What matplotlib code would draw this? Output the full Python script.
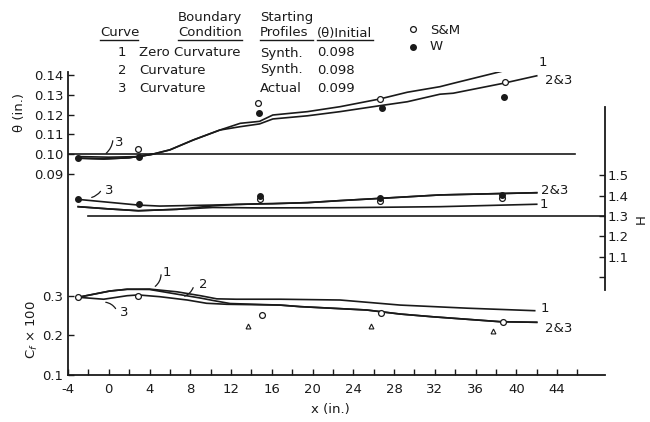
import matplotlib
matplotlib.use("Agg")
import matplotlib.pyplot as plt
from matplotlib.patches import FancyArrowPatch
from matplotlib.lines import Line2D

# ---------------- data ----------------
# momentum thickness theta (in.)
x_theta_1 = [-3, -0.5, 2, 4.3, 6, 8.3, 10.9, 12.9, 14.8, 16.1, 19.5, 22.7, 26.6, 29.3, 32.5, 33.8, 37.1, 40.4, 42.0]
theta_1 = [0.098, 0.0976, 0.0982, 0.100, 0.1022, 0.1072, 0.1122, 0.1156, 0.1166, 0.1198, 0.1215, 0.1240, 0.1279,
           0.1313, 0.1341, 0.1358, 0.1400, 0.1442, 0.1454]
x_theta_23 = [-3, -0.5, 2, 4.3, 6, 8.3, 10.9, 12.9, 14.8, 16.1, 19.5, 22.7, 26.6, 29.3, 32.5, 33.8, 38.7, 42.0]
theta_23 = [0.098, 0.0976, 0.0982, 0.100, 0.1022, 0.1072, 0.1122, 0.1139, 0.1153, 0.1178, 0.1194, 0.1215, 0.1245,
            0.1265, 0.1303, 0.1308, 0.1358, 0.1396]
x_theta_3 = [-3, 0, 3, 4.3]
theta_3 = [0.0988, 0.0985, 0.0988, 0.100]
theta_ref = 0.10
theta_ref_x = [-4, 45.75]

x_theta_sm = [2.9, 14.6, 26.6, 38.9]
theta_sm = [0.1026, 0.1258, 0.1278, 0.1364]
x_theta_w = [-3.0, 3.0, 14.7, 26.8, 38.8]
theta_w = [0.098, 0.0986, 0.1208, 0.1232, 0.1288]

# shape factor H
x_H_1 = [-3, 0, 2.9, 6.7, 10.2, 14.8, 22.7, 32.5, 42.0]
H_1 = [1.346, 1.335, 1.326, 1.333, 1.342, 1.340, 1.341, 1.346, 1.358]
x_H_2 = [-3, 0, 2.9, 6.7, 10.2, 12.5, 14.8, 16.1, 19.5, 22.7, 26.6, 32.5, 42.0]
H_2 = [1.346, 1.335, 1.326, 1.333, 1.350, 1.357, 1.360, 1.361, 1.366, 1.376, 1.387, 1.404, 1.415]
x_H_3 = [-3, 2.9, 5.0, 10.2, 14.8, 16.1, 19.5, 22.7, 26.6, 32.5, 42.0]
H_3 = [1.382, 1.354, 1.349, 1.354, 1.360, 1.361, 1.366, 1.376, 1.387, 1.404, 1.415]
H_ref = 1.3
H_ref_x = [-2.04, 48.7]

x_H_w = [-3.0, 3.0, 14.8, 26.6, 38.6]
H_w = [1.382, 1.357, 1.399, 1.390, 1.404]
x_H_sm = [14.8, 26.6, 38.6]
H_sm = [1.386, 1.372, 1.390]

# skin friction Cf x 100
x_cf_1 = [-3, 0.1, 1.8, 4.0, 6.7, 9.0, 10.6, 12.5, 16.8, 22.7, 28.6, 35.2, 41.8]
cf_1 = [0.298, 0.314, 0.3185, 0.319, 0.312, 0.302, 0.294, 0.293, 0.293, 0.291, 0.278, 0.270, 0.2636]
x_cf_2 = [-3, 0.1, 1.8, 4.0, 6.7, 9.0, 10.6, 11.9, 16.8, 18.8, 25.3, 28.6, 31.8, 38.4, 42.0]
cf_2 = [0.298, 0.314, 0.3185, 0.318, 0.306, 0.296, 0.288, 0.282, 0.278, 0.274, 0.2654, 0.255, 0.248, 0.2354, 0.2338]
x_cf_3 = [-3, -0.5, 1.8, 2.9, 5.0, 7.7, 9.6, 11.6, 16.8, 18.8, 25.3, 28.6, 31.8, 38.4, 42.0]
cf_3 = [0.298, 0.293, 0.302, 0.304, 0.2995, 0.291, 0.2826, 0.280, 0.278, 0.274, 0.2654, 0.255, 0.248, 0.2354, 0.2338]

x_cf_sm = [-3.0, 2.9, 15.0, 26.7, 38.7]
cf_sm = [0.298, 0.301, 0.253, 0.258, 0.235]
x_cf_tri = [13.7, 25.7, 37.7]
cf_tri = [0.224, 0.224, 0.211]

x_major = [-4, 0, 4, 8, 12, 16, 20, 24, 28, 32, 36, 40, 44]
x_major_labels = ["-4", "0", "4", "8", "12", "16", "20", "24", "28", "32", "36", "40", "44"]
x_minor = [-2, 2, 6, 10, 14, 18, 22, 26, 30, 34, 38, 42, 46]
theta_ticks = [0.09, 0.10, 0.11, 0.12, 0.13, 0.14]
theta_labels = ["0.09", "0.10", "0.11", "0.12", "0.13", "0.14"]
cf_ticks = [0.1, 0.2, 0.3]
cf_labels = ["0.1", "0.2", "0.3"]
H_ticks = [1.0, 1.1, 1.2, 1.3, 1.4, 1.5]
H_labels = ["", "1.1", "1.2", "1.3", "1.4", "1.5"]

# ---------------- figure ----------------
FW, FH = 650, 422
FS = 9.5
INK = "#1a1a1a"
plt.rcParams["font.family"] = ["DejaVu Sans"]
plt.rcParams["text.color"] = INK

fig = plt.figure(figsize=(6.5, 4.22), dpi=100)
fig.patch.set_facecolor("white")


def F(px, py):
    return (px / FW, 1 - py / FH)


pos = [68 / FW, 1 - 374.5 / FH, 537 / FW, 302.5 / FH]
ax_cf = fig.add_axes(pos)
ax_th = fig.add_axes(pos)
ax_h = fig.add_axes(pos)
for a in (ax_th, ax_h):
    a.patch.set_visible(False)

XL = (-4, 48.7)
for a in (ax_cf, ax_th, ax_h):
    a.set_xlim(*XL)

ax_cf.set_ylim(0.1, 0.8756)
ax_th.set_ylim(-0.01126, 0.14152)
ax_h.set_ylim(0.5173, 2.0111)

SPW = 1.3
for s in ax_cf.spines.values():
    s.set_visible(False)
for side in ("left", "bottom"):
    ax_cf.spines[side].set_visible(True)
    ax_cf.spines[side].set_linewidth(SPW)
    ax_cf.spines[side].set_color(INK)
for a in (ax_th, ax_h):
    for s in a.spines.values():
        s.set_visible(False)
ax_h.spines["right"].set_visible(True)
ax_h.spines["right"].set_bounds(0.935, 1.838)
ax_h.spines["right"].set_linewidth(SPW)
ax_h.spines["right"].set_color(INK)

# ticks
ax_cf.set_xticks(x_major)
ax_cf.set_xticklabels(x_major_labels, fontsize=FS)
ax_cf.set_xticks(x_minor, minor=True)
ax_cf.tick_params(axis="x", which="both", direction="in", length=4, width=1.0, pad=6, colors=INK)
ax_cf.set_yticks(cf_ticks)
ax_cf.set_yticklabels(cf_labels, fontsize=FS)
ax_cf.tick_params(axis="y", direction="in", length=4, width=1.0, pad=3.5, colors=INK)

ax_th.set_xticks([])
ax_th.set_yticks(theta_ticks)
ax_th.set_yticklabels(theta_labels, fontsize=FS)
ax_th.tick_params(axis="y", direction="in", length=4, width=1.0, pad=3.5, colors=INK)

ax_h.set_xticks([])
ax_h.yaxis.tick_right()
ax_h.set_yticks(H_ticks)
ax_h.set_yticklabels(H_labels, fontsize=FS)
ax_h.tick_params(axis="y", direction="in", length=4, width=1.0, pad=2, colors=INK,
                 left=False, labelleft=False, right=True, labelright=True)

LW = 1.2
# theta
ax_th.plot(theta_ref_x, [theta_ref, theta_ref], color=INK, lw=LW)
ax_th.plot(x_theta_1, theta_1, color=INK, lw=LW)
ax_th.plot(x_theta_23, theta_23, color=INK, lw=LW)
ax_th.plot(x_theta_3, theta_3, color=INK, lw=LW)
ax_th.plot(x_theta_sm, theta_sm, ls="none", marker="o", ms=4.2, mfc="white", mec=INK, mew=0.9)
ax_th.plot(x_theta_w, theta_w, ls="none", marker="o", ms=4.0, mfc=INK, mec=INK)

# H
ax_h.plot(H_ref_x, [H_ref, H_ref], color=INK, lw=LW)
ax_h.plot(x_H_1, H_1, color=INK, lw=LW)
ax_h.plot(x_H_2, H_2, color=INK, lw=LW)
ax_h.plot(x_H_3, H_3, color=INK, lw=LW)
ax_h.plot(x_H_sm, H_sm, ls="none", marker="o", ms=4.2, mfc="white", mec=INK, mew=0.9)
ax_h.plot(x_H_w, H_w, ls="none", marker="o", ms=4.0, mfc=INK, mec=INK)

# Cf
ax_cf.plot(x_cf_1, cf_1, color=INK, lw=LW)
ax_cf.plot(x_cf_2, cf_2, color=INK, lw=LW)
ax_cf.plot(x_cf_3, cf_3, color=INK, lw=LW)
ax_cf.plot(x_cf_sm, cf_sm, ls="none", marker="o", ms=4.2, mfc="white", mec=INK, mew=0.9)
ax_cf.plot(x_cf_tri, cf_tri, ls="none", marker="^", ms=3.5, mfc="white", mec=INK, mew=0.8)

# axis labels
fig.text(*F(20, 113), "θ (in.)", rotation=90, ha="center", va="center", fontsize=FS)
fig.text(*F(32, 330), "C$_f$ × 100", rotation=90, ha="center", va="center", fontsize=FS)
fig.text(*F(330, 410), "x (in.)", ha="center", va="center", fontsize=FS)
fig.text(*F(641, 219), "H", rotation=90, ha="center", va="center", fontsize=FS)


# header table
def T(px, py, s, ha="left"):
    fig.text(*F(px, py), s, ha=ha, va="center", fontsize=FS)


def U(x0, x1, py):
    fig.add_artist(Line2D([x0 / FW, x1 / FW], [1 - py / FH, 1 - py / FH], color=INK, lw=1.0,
                          transform=fig.transFigure))


T(178, 17, "Boundary")
T(260, 17, "Starting")
T(100, 33, "Curve")
T(178, 33, "Condition")
T(260, 33, "Profiles")
T(317, 33, "(θ)Initial")
U(100, 138, 40)
U(178, 242, 40)
U(260, 313, 40)
U(317, 373, 40)

rows_num = ["1", "2", "3"]
rows_bc = ["Zero Curvature", "Curvature", "Curvature"]
rows_sp = ["Synth.", "Synth.", "Actual"]
rows_th = ["0.098", "0.098", "0.099"]
for i, yy in enumerate([53, 70, 88]):
    T(122, yy, rows_num[i], ha="center")
    T(139, yy, rows_bc[i])
    T(260, yy, rows_sp[i])
    T(317, yy, rows_th[i])

# legend
fig.add_artist(Line2D([413 / FW], [1 - 29 / FH], ls="none", marker="o", ms=4.2, mfc="white", mec=INK,
                      mew=0.9, transform=fig.transFigure))
fig.add_artist(Line2D([413 / FW], [1 - 47 / FH], ls="none", marker="o", ms=4.0, mfc=INK, mec=INK,
                      transform=fig.transFigure))
T(430, 31, "S&M")
T(430, 47, "W")

# curve end labels
T(539, 62, "1")
T(545, 80, "2&3")
T(541, 191, "2&3")
T(540, 205, "1")
T(541, 308, "1")
T(545, 329, "2&3")


# leader labels
def leader(p0, p1, rad):
    fig.add_artist(FancyArrowPatch(F(*p0), F(*p1), transform=fig.transFigure, arrowstyle="-",
                                   connectionstyle="arc3,rad=%s" % rad, color=INK, lw=0.9))


T(119, 143, "3", ha="center")
leader((113, 138), (104, 155), -0.25)
T(109, 191, "3", ha="center")
leader((102, 189), (89, 198), -0.25)
T(167, 272, "1", ha="center")
leader((161, 272), (153, 288), -0.3)
T(203, 284, "2", ha="center")
leader((194, 285), (182, 297), -0.3)
T(124, 313, "3", ha="center")
leader((117, 311), (103, 302), 0.3)

fig.savefig("out.png", dpi=100, facecolor="white")
